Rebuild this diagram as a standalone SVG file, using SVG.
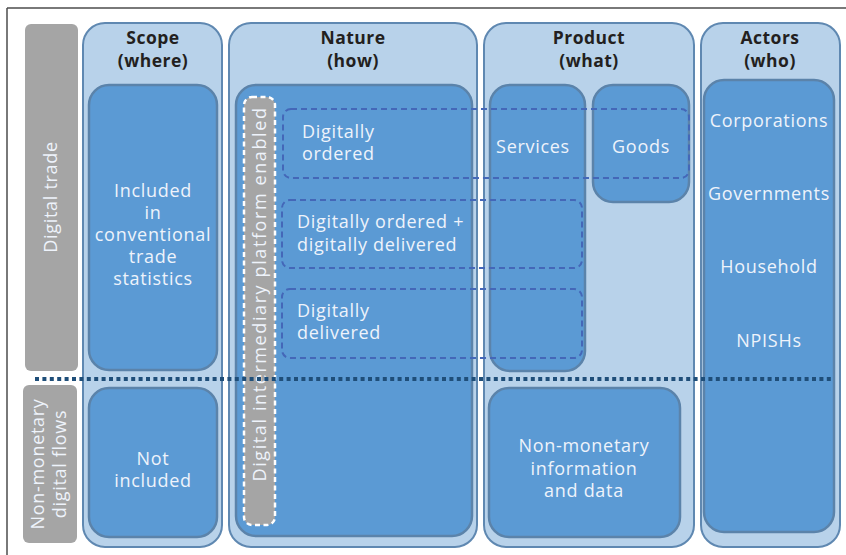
<svg xmlns="http://www.w3.org/2000/svg" width="846" height="555" viewBox="0 0 846 555">
<defs>
<style>
.panel{fill:#b8d2ea;stroke:#5f88b1;stroke-width:2}
.inner{fill:#5b9ad4;stroke:#5b83aa;stroke-width:2.5}
.side{fill:#a5a5a5}
.dash{fill:none;stroke:#4467b8;stroke-width:2;stroke-dasharray:6 4}
.hdr{font-family:"Open Sans","Liberation Sans",sans-serif;font-weight:bold;font-size:17.5px;fill:#231f20;text-anchor:middle;letter-spacing:0.5px}
.t{font-family:"Open Sans","Liberation Sans",sans-serif;font-size:18px;fill:#eef3fb;letter-spacing:0.7px}
.c{text-anchor:middle}
</style>
</defs>
<rect width="846" height="555" fill="#ffffff"/>
<g id="frame" fill="none" stroke="#4d4d4d" stroke-width="1.5">
<line x1="7" y1="8" x2="846" y2="8"/>
<line x1="7" y1="8" x2="7" y2="555"/>
</g>

<g id="label-digital-trade">
<rect class="side" x="25" y="24" width="53" height="347" rx="6"/>
<text class="t c" transform="translate(57,197) rotate(-90)">Digital trade</text>
</g>
<g id="label-non-monetary">
<rect class="side" x="23" y="385" width="54" height="158" rx="6"/>
<text class="t c" transform="translate(44,464) rotate(-90)">Non-monetary</text>
<text class="t c" transform="translate(66,464) rotate(-90)">digital flows</text>
</g>

<g id="scope">
<rect class="panel" x="83" y="23" width="139" height="524" rx="22"/>
<text class="hdr" x="153" y="44">Scope</text>
<text class="hdr" x="153" y="67">(where)</text>
</g>
<g id="scope-included">
<rect class="inner" x="89" y="85" width="128" height="285" rx="20"/>
<text class="t c" x="153" y="197">Included</text>
<text class="t c" x="153" y="219">in</text>
<text class="t c" x="153" y="241">conventional</text>
<text class="t c" x="153" y="263">trade</text>
<text class="t c" x="153" y="285">statistics</text>
</g>
<g id="scope-not-included">
<rect class="inner" x="89" y="388" width="128" height="149" rx="20"/>
<text class="t c" x="153" y="465">Not</text>
<text class="t c" x="153" y="487">included</text>
</g>

<g id="nature">
<rect class="panel" x="229" y="23" width="248" height="524" rx="22"/>
<text class="hdr" x="353" y="44">Nature</text>
<text class="hdr" x="353" y="67">(how)</text>
<rect class="inner" x="236" y="85" width="236" height="451" rx="20"/>
</g>

<g id="product">
<rect class="panel" x="484" y="23" width="210" height="524" rx="22"/>
<text class="hdr" x="589" y="44">Product</text>
<text class="hdr" x="589" y="67">(what)</text>
</g>
<g id="product-services">
<rect class="inner" x="490" y="85" width="95" height="286" rx="20"/>
<text class="t c" x="533" y="153">Services</text>
</g>
<g id="product-goods">
<rect class="inner" x="593" y="85" width="96" height="117" rx="20"/>
<text class="t c" x="641" y="153">Goods</text>
</g>
<g id="product-nonmonetary">
<rect class="inner" x="489" y="388" width="191" height="149" rx="20"/>
<text class="t c" x="584" y="452">Non-monetary</text>
<text class="t c" x="584" y="475">information</text>
<text class="t c" x="584" y="497">and data</text>
</g>

<g id="actors">
<rect class="panel" x="701" y="23" width="139" height="524" rx="22"/>
<text class="hdr" x="770" y="44">Actors</text>
<text class="hdr" x="770" y="67">(who)</text>
<rect class="inner" x="704" y="80" width="130" height="452" rx="20"/>
<text class="t c" x="769" y="127">Corporations</text>
<text class="t c" x="769" y="200">Governments</text>
<text class="t c" x="769" y="273">Household</text>
<text class="t c" x="769" y="347">NPISHs</text>
</g>

<g id="digitally-ordered">
<rect class="dash" x="283" y="109" width="406" height="69" rx="8"/>
<text class="t" x="302" y="138">Digitally</text>
<text class="t" x="302" y="160">ordered</text>
</g>
<g id="ordered-delivered">
<rect class="dash" x="282" y="200" width="300" height="68" rx="8"/>
<text class="t" x="297" y="228">Digitally ordered +</text>
<text class="t" x="297" y="251">digitally delivered</text>
</g>
<g id="digitally-delivered">
<rect class="dash" x="282" y="289" width="300" height="69" rx="8"/>
<text class="t" x="297" y="317">Digitally</text>
<text class="t" x="297" y="339">delivered</text>
</g>

<g id="intermediary">
<rect x="244" y="97" width="31" height="428" rx="8" fill="#a5a5a5" stroke="#ffffff" stroke-width="2.5" stroke-dasharray="5 3.5"/>
<text class="t c" style="letter-spacing:1.6px" transform="translate(266,294) rotate(-90)">Digital intermediary platform enabled</text>
</g>

<g id="connectors">
<line x1="35" y1="379" x2="834" y2="379" stroke="#1f4e79" stroke-width="4" stroke-dasharray="4 3.4"/>
</g>
</svg>
